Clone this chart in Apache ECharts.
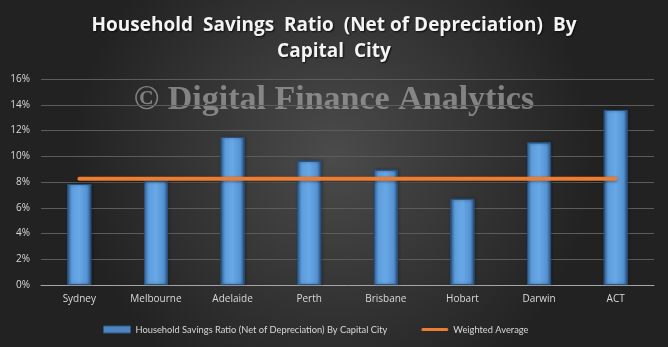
<!DOCTYPE html>
<html>
<head>
<meta charset="utf-8">
<script src="https://cdn.jsdelivr.net/npm/echarts@6/dist/echarts.min.js"></script>
<style>
  html, body { margin: 0; padding: 0; }
  #chart { width: 668px; height: 347px; }
</style>
</head>
<body>
<div id="chart"></div>
<script>
// Household savings ratio by capital city, with the weighted average
const cities = ['Sydney', 'Melbourne', 'Adelaide', 'Perth', 'Brisbane', 'Hobart', 'Darwin', 'ACT'];
const savingsRatio = [7.85, 8.12, 11.5, 9.65, 8.96, 6.7, 11.08, 13.6];
const weightedAverage = [8.26, 8.26, 8.26, 8.26, 8.26, 8.26, 8.26, 8.26];
const yTicks = { min: 0, max: 16, interval: 2 };

const barName = 'Household Savings Ratio (Net of Depreciation) By Capital City';
const lineName = 'Weighted Average';

const chart = echarts.init(document.getElementById('chart'));

const barFill = new echarts.graphic.LinearGradient(0, 0, 1, 0, [
  { offset: 0, color: '#3f78b4' },
  { offset: 0.18, color: '#5d9ddd' },
  { offset: 0.5, color: '#68a8e6' },
  { offset: 0.82, color: '#5592d2' },
  { offset: 1, color: '#2b5786' }
]);

// thin horizontal stroke centred in a 27x7 box (corner dots keep the box size)
const lineIcon = 'path://M1.5,2h24a1.5,1.5 0 0 1 0,3h-24a1.5,1.5 0 0 1 0,-3z M0,0h0.01v0.01h-0.01z M27,7h-0.01v-0.01h0.01z';

chart.setOption({
  backgroundColor: new echarts.graphic.RadialGradient(0.5, 0.45, 0.75, [
    { offset: 0, color: '#4b4b4b' },
    { offset: 1, color: '#222222' }
  ]),
  title: {
    text: 'Household  Savings  Ratio  (Net of Depreciation)  By\nCapital  City',
    left: 'center',
    top: 8,
    textStyle: {
      color: '#f4f4f4',
      fontFamily: 'Open Sans',
      fontWeight: 'bold',
      fontSize: 19,
      lineHeight: 26,
      textShadowColor: 'rgba(0,0,0,0.8)',
      textShadowBlur: 2,
      textShadowOffsetX: 1,
      textShadowOffsetY: 1
    }
  },
  graphic: [{
    type: 'text',
    left: 'center',
    top: 83,
    silent: true,
    z: 0,
    style: {
      text: '\u00A9 Digital Finance Analytics',
      fill: 'rgba(165,165,165,0.7)',
      font: 'bold 34px "Liberation Serif", "DejaVu Serif", serif'
    }
  }],
  legend: {
    top: 320,
    left: 98,
    itemGap: 34,
    textStyle: { color: '#d9d9d9', fontFamily: 'Lato', fontSize: 9.3 },
    data: [
      { name: barName, icon: 'rect', itemStyle: { color: '#4f86c0', borderColor: '#2b5786', borderWidth: 1 } },
      { name: lineName, icon: lineIcon, itemStyle: { color: '#ed7d31', borderWidth: 0 } }
    ],
    itemWidth: 27,
    itemHeight: 7
  },
  grid: { left: 41, right: 14, top: 79, bottom: 62, containLabel: false },
  xAxis: {
    type: 'category',
    data: cities,
    axisLine: { lineStyle: { color: '#a6a6a6', width: 1 } },
    axisTick: { show: false },
    axisLabel: { color: '#d9d9d9', fontFamily: 'Open Sans', fontSize: 10, margin: 9 }
  },
  yAxis: {
    type: 'value',
    min: yTicks.min,
    max: yTicks.max,
    interval: yTicks.interval,
    axisLine: { show: false },
    axisTick: { show: false },
    axisLabel: { color: '#d9d9d9', fontFamily: 'Open Sans', fontSize: 10, margin: 11, formatter: '{value}%' },
    splitLine: { lineStyle: { color: '#5c5c5c', width: 1 } }
  },
  series: [
    {
      name: barName,
      type: 'bar',
      data: savingsRatio,
      barWidth: 24,
      z: 2,
      itemStyle: {
        color: barFill,
        borderColor: '#2a5280',
        borderWidth: 1,
        shadowColor: 'rgba(0,0,0,0.45)',
        shadowBlur: 3,
        shadowOffsetX: 1
      }
    },
    {
      name: lineName,
      type: 'line',
      data: weightedAverage,
      showSymbol: false,
      symbol: 'none',
      z: 3,
      lineStyle: { color: '#ed7d31', width: 4, cap: 'round', shadowColor: 'rgba(0,0,0,0.4)', shadowBlur: 3, shadowOffsetY: 1 },
      itemStyle: { color: '#ed7d31' }
    }
  ]
});
</script>
</body>
</html>
